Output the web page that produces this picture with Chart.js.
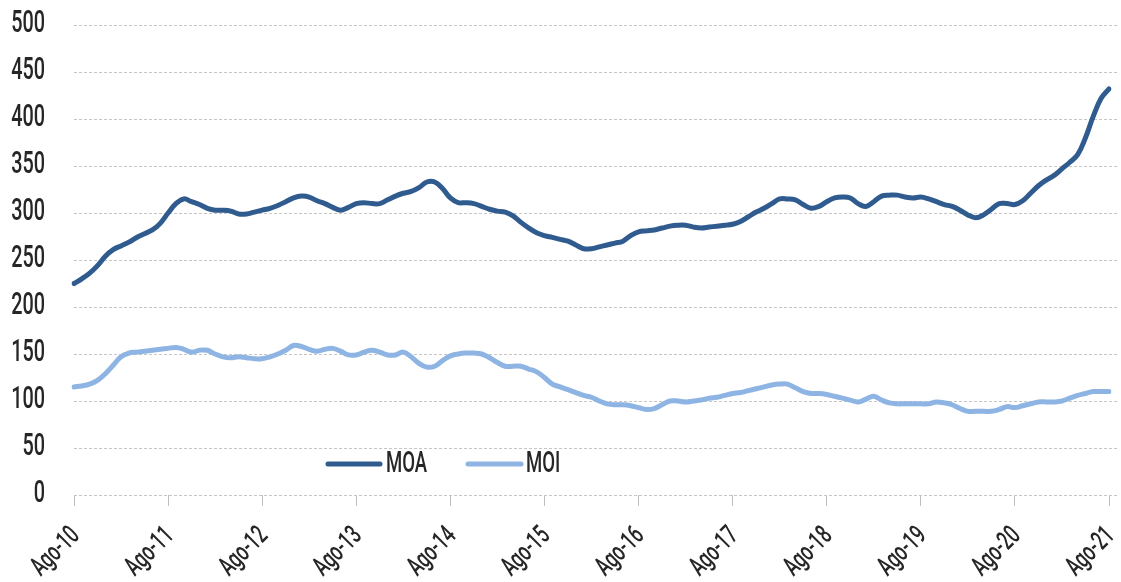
<!DOCTYPE html>
<html>
<head>
<meta charset="utf-8">
<script src="https://cdn.jsdelivr.net/npm/chart.js@4.4.1/dist/chart.umd.min.js"></script>
<style>
  html, body { margin: 0; padding: 0; background: #ffffff; }
  #wrap { width: 1121px; height: 582px; position: relative; }
</style>
</head>
<body>
<div id="wrap"><canvas id="c" width="1121" height="582"></canvas></div>
<script>
// Month abbreviations (Spanish) and period: Aug 2010 .. Aug 2021
const monthNames = ['Ene','Feb','Mar','Abr','May','Jun','Jul','Ago','Sep','Oct','Nov','Dic'];
const startYear = 2010, startMonth = 7, monthCount = 133;
const categories = [];
for (let i = 0; i < monthCount; i++) {
  const m = (startMonth + i) % 12;
  const y = startYear + Math.floor((startMonth + i) / 12);
  categories.push(monthNames[m] + '-' + String(y % 100).padStart(2, '0'));
}

const seriesNames = ['MOA', 'MOI'];

const moa = [
  225,230,236,244,254,261,265,269,274,278,282,289,
  300,310,315,312,309,305,303,303,302,299,299,301,
  303,305,308,312,316,318,317,313,310,306,303,306,
  310,311,310,310,314,318,321,323,327,333,333,326,
  316,311,311,310,307,304,302,301,297,290,284,279,
  276,274,272,270,266,262,262,264,266,268,270,276,
  280,281,282,284,286,287,287,285,284,285,286,287,
  288,291,296,301,305,310,315,315,314,309,305,307,
  312,316,317,316,310,307,312,318,319,319,317,316,
  317,315,312,309,307,303,298,295,298,304,310,310,
  309,313,321,329,335,340,347,354,362,380,403,422,
  432
];

const moi = [
  115,116,118,122,129,138,147,151,152,153,154,155,
  156,157,155,152,154,154,150,147,146,147,146,145,
  145,147,150,154,159,158,155,153,155,156,153,149,
  149,152,154,152,149,149,152,147,140,136,137,143,
  148,150,151,151,150,146,141,137,137,137,134,131,
  125,118,115,112,109,106,104,100,97,96,96,95,
  93,91,92,96,100,100,99,100,101,103,104,106,
  108,109,111,113,115,117,118,118,114,110,108,108,
  107,105,103,101,99,102,105,101,98,97,97,97,
  97,97,99,98,96,92,89,89,89,89,91,94,
  93,95,97,99,99,99,100,103,106,108,110,110,
  110
];

const yTicks = [0,50,100,150,200,250,300,350,400,450,500];
const xTickEvery = 12;

const colMOA = '#2F5B8F';
const colMOI = '#8DB4E3';
const textCol = '#262626';
const fontFam = 'Roboto, "Liberation Sans", sans-serif';
const condense = 0.64;

function condText(ctx, text, x, y, size, align, angle) {
  ctx.save();
  ctx.translate(x, y);
  if (angle) ctx.rotate(angle);
  ctx.scale(condense, 1);
  ctx.font = '500 ' + size + 'px ' + fontFam;
  ctx.fillStyle = textCol;
  ctx.textAlign = align;
  ctx.textBaseline = 'middle';
  ctx.fillText(text, 0, 0);
  ctx.restore();
}

const gridPlugin = {
  id: 'extGrid',
  beforeDatasetsDraw(chart) {
    const ctx = chart.ctx, ys = chart.scales.y, a = chart.chartArea;
    ctx.save();
    ctx.strokeStyle = '#C6C6C6';
    ctx.lineWidth = 1;
    ctx.setLineDash([3, 2]);
    yTicks.forEach(v => {
      const py = Math.round(ys.getPixelForValue(v)) + 0.5;
      ctx.beginPath();
      ctx.moveTo(a.left, py);
      ctx.lineTo(a.right + 9, py);
      ctx.stroke();
    });
    ctx.restore();
  }
};

const textPlugin = {
  id: 'condensedText',
  afterDraw(chart) {
    const ctx = chart.ctx, ys = chart.scales.y, xs = chart.scales.x, a = chart.chartArea;
    // y tick labels
    yTicks.forEach(v => {
      condText(ctx, String(v), a.left - 29, ys.getPixelForValue(v) - 1, 31, 'right', 0);
    });
    // x tick labels
    xs.ticks.forEach(t => {
      const px = xs.getPixelForValue(t.value);
      condText(ctx, categories[t.value], px + 2, a.bottom + 37, 27, 'right', -Math.PI / 4);
    });
    // legend inside the plot
    const ly = 464;
    const items = [
      { ds: chart.data.datasets[0], x0: 328, x1: 380, tx: 386 },
      { ds: chart.data.datasets[1], x0: 468, x1: 521, tx: 526 }
    ];
    items.forEach(it => {
      ctx.save();
      ctx.beginPath();
      ctx.strokeStyle = it.ds.borderColor;
      ctx.lineWidth = 5;
      ctx.lineCap = 'round';
      ctx.moveTo(it.x0, ly);
      ctx.lineTo(it.x1, ly);
      ctx.stroke();
      ctx.restore();
      condText(ctx, it.ds.label, it.tx, ly + 1, 29, 'left', 0);
    });
  }
};

new Chart(document.getElementById('c'), {
  type: 'line',
  data: {
    labels: categories,
    datasets: [
      { label: seriesNames[0], data: moa, borderColor: colMOA, backgroundColor: colMOA,
        borderWidth: 5, pointRadius: 0, tension: 0.4, borderCapStyle: 'round', borderJoinStyle: 'round' },
      { label: seriesNames[1], data: moi, borderColor: colMOI, backgroundColor: colMOI,
        borderWidth: 5, pointRadius: 0, tension: 0.4, borderCapStyle: 'round', borderJoinStyle: 'round' }
    ]
  },
  options: {
    responsive: false,
    animation: false,
    devicePixelRatio: 1,
    layout: { padding: { top: 25, right: 12, left: 0, bottom: 0 } },
    plugins: {
      legend: { display: false },
      tooltip: { enabled: false }
    },
    scales: {
      x: {
        offset: false,
        afterBuildTicks(scale) {
          scale.ticks = scale.ticks.filter(t => t.value % xTickEvery === 0);
        },
        grid: {
          display: true,
          drawOnChartArea: false,
          drawTicks: true,
          tickLength: 11,
          tickColor: '#BFBFBF',
          tickWidth: 1
        },
        border: { display: false },
        ticks: { display: false, autoSkip: false, maxRotation: 0 },
        afterFit(scale) { scale.height = 87; }
      },
      y: {
        min: 0,
        max: 500,
        afterBuildTicks(scale) { scale.ticks = yTicks.map(v => ({ value: v })); },
        grid: { display: false, drawTicks: false },
        border: { display: false },
        ticks: { display: false },
        afterFit(scale) { scale.width = 74; }
      }
    }
  },
  plugins: [gridPlugin, textPlugin]
});
</script>
</body>
</html>
